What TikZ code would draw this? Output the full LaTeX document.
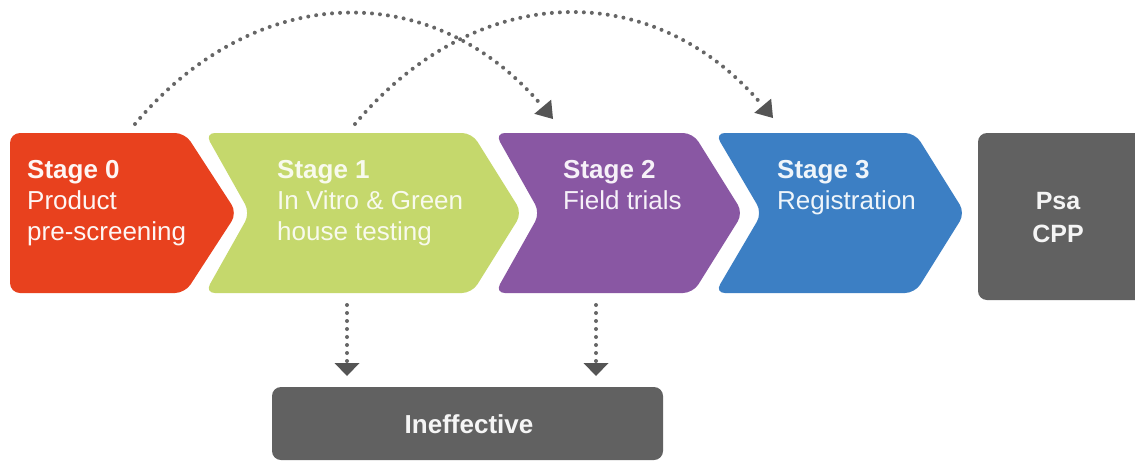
\documentclass[tikz,border=0pt]{standalone}
\usepackage{fontspec}
\setmainfont{Liberation Sans}
\usetikzlibrary{arrows.meta}
\definecolor{cred}{HTML}{E8411E}
\definecolor{cgreen}{HTML}{C5D86C}
\definecolor{cpurple}{HTML}{8957A3}
\definecolor{cblue}{HTML}{3C7FC4}
\definecolor{cgray}{HTML}{616161}
\definecolor{cdot}{HTML}{666666}
\definecolor{chead}{HTML}{555555}
\begin{document}
\begin{tikzpicture}[x=1pt,y=-1pt,
  chev/.style={rounded corners=10pt},
  stagetext/.style={anchor=north west,inner sep=0pt,align=left,
    font=\fontsize{26pt}{31pt}\selectfont},
  boxtext/.style={inner sep=0pt,align=center,text=white!92!gray},
  dotline/.style={draw=cdot,line width=4pt,line cap=round,dash pattern=on 0pt off 8pt},
  archead/.style={-{Triangle[width=22pt,length=16pt,line width=0pt,fill=chead,color=chead]}},
  downhead/.style={-{Triangle[width=25pt,length=13pt,line width=0pt,fill=chead,color=chead]}}
]
\useasboundingbox (0,0) rectangle (1135,461);
\clip (0,0) rectangle (1135,461);
\fill[white] (0,0) rectangle (1135,461);

% chevrons
\fill[cred,chev] (10,133) -- (185,133) -- (237,213) -- (185,293) -- (10,293) -- cycle;
\fill[cgreen,chev] (205,133) -- (472,133) -- (522,213) -- (472,293) -- (205,293) -- (250,213) -- cycle;
\fill[cpurple,chev] (495,133) -- (693,133) -- (743,213) -- (693,293) -- (495,293) -- (540,213) -- cycle;
\fill[cblue,chev] (715,133) -- (915,133) -- (965,213) -- (915,293) -- (715,293) -- (762,213) -- cycle;
\fill[cgray,rounded corners=9pt] (978,133) rectangle (1145,300);
\fill[cgray,rounded corners=9pt] (272,387) rectangle (663,460);

% texts
\node[stagetext,text=white!95!cred] (s0) at (27,160) {\textbf{Stage 0}\\Product\\pre-screening};
\node[stagetext,text=white!88!cgreen] (s1) at (277,160) {\textbf{Stage 1}\\In Vitro \& Green\\house testing};
\node[stagetext,text=white!92!cpurple] (s2) at (563,160) {\textbf{Stage 2}\\Field trials};
\node[stagetext,text=white!92!cblue] (s3) at (777,160) {\textbf{Stage 3}\\Registration};
\node[boxtext,font=\bfseries\fontsize{25pt}{33pt}\selectfont] (psa) at (1058,218) {Psa\\CPP};
\node[boxtext,font=\bfseries\fontsize{26pt}{31pt}\selectfont] (ineff) at (469,424) {Ineffective};

% connector end points
\coordinate (c0top) at (135,124);
\coordinate (c1top) at (355,124);
\coordinate (c2top) at (553,119);
\coordinate (c3top) at (773,118);
\coordinate (c1bot) at (347,305);
\coordinate (c2bot) at (596,305);
\coordinate (i1) at (347,376);
\coordinate (i2) at (596,376);

% connectors
\draw[dotline,archead] (c0top) .. controls +(120,-143) and +(-120,-143) .. (c2top);
\draw[dotline,archead] (c1top) .. controls +(120,-143) and +(-120,-143) .. (c3top);
\draw[dotline,downhead] (c1bot) -- (i1);
\draw[dotline,downhead] (c2bot) -- (i2);
\end{tikzpicture}
\end{document}
